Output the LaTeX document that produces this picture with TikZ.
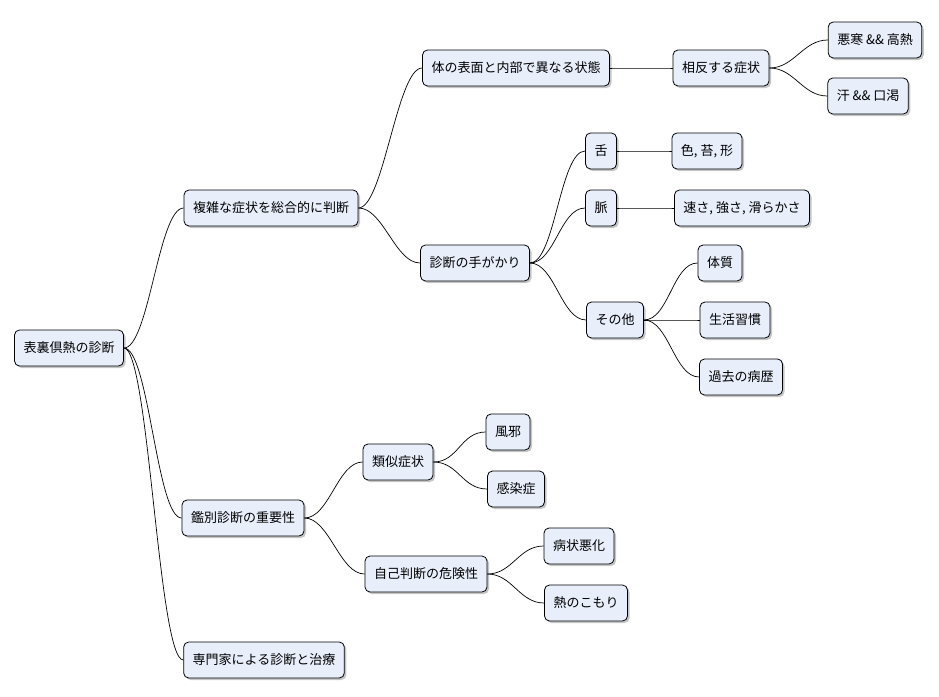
\documentclass[tikz,border=0pt]{standalone}
\usepackage{fontspec}
\setmainfont{Noto Sans CJK JP}
\usepackage{tikz}
\usetikzlibrary{shadows}
\definecolor{boxfill}{HTML}{E8EFFB}

\tikzset{
  topic/.style={draw=black, fill=boxfill, rounded corners=5pt, line width=0.8pt,
    minimum height=36pt, inner xsep=9pt, font=\fontsize{13pt}{15pt}\selectfont,
    drop shadow={shadow xshift=2pt, shadow yshift=-2pt, fill=black!45}},
  br/.style={-, line width=0.7pt,
    to path={.. controls +(25,0) and +(-25,0) .. (\tikztotarget)}}
}

\begin{document}
\begin{tikzpicture}[x=1pt,y=-1pt]
\useasboundingbox (0,0) rectangle (939,696);

\node[topic] (R)  at (69,348)  {表裏倶熱の診断};

\node[topic] (A)  at (271,208) {複雑な症状を総合的に判断};
\node[topic] (B)  at (243,518) {鑑別診断の重要性};
\node[topic] (C)  at (264,660) {専門家による診断と治療};

\node[topic] (A1) at (516,68)  {体の表面と内部で異なる状態};
\node[topic] (A11) at (721,68) {相反する症状};
\node[topic] (A111) at (875,40) {悪寒 \&\& 高熱};
\node[topic] (A112) at (868,96) {汗 \&\& 口渇};

\node[topic] (A2) at (475,263) {診断の手がかり};
\node[topic] (A21) at (601,151) {舌};
\node[topic] (A211) at (707,151) {色, 苔, 形};
\node[topic] (A22) at (601,208) {脈};
\node[topic] (A221) at (742,208) {速さ, 強さ, 滑らかさ};
\node[topic] (A23) at (615,320) {その他};
\node[topic] (A231) at (720,263) {体質};
\node[topic] (A232) at (735,320) {生活習慣};
\node[topic] (A233) at (741,377) {過去の病歴};

\node[topic] (B1) at (398,462) {類似症状};
\node[topic] (B11) at (508,432) {風邪};
\node[topic] (B12) at (516,489) {感染症};
\node[topic] (B2) at (426,574) {自己判断の危険性};
\node[topic] (B21) at (579,546) {病状悪化};
\node[topic] (B22) at (586,603) {熱のこもり};

\path
	(R.east) edge[br] (A.west)
	(R.east) edge[br] (B.west)
	(R.east) edge[br] (C.west);

\path
	(A.east) edge[br] (A1.west)
	(A.east) edge[br] (A2.west)
	(A1.east) edge[br] (A11.west)
	(A11.east) edge[br] (A111.west)
	(A11.east) edge[br] (A112.west);

\path
	(A2.east) edge[br] (A21.west)
	(A2.east) edge[br] (A22.west)
	(A2.east) edge[br] (A23.west)
	(A21.east) edge[br] (A211.west)
	(A22.east) edge[br] (A221.west)
	(A23.east) edge[br] (A231.west)
	(A23.east) edge[br] (A232.west)
	(A23.east) edge[br] (A233.west);

\path
	(B.east) edge[br] (B1.west)
	(B.east) edge[br] (B2.west)
	(B1.east) edge[br] (B11.west)
	(B1.east) edge[br] (B12.west)
	(B2.east) edge[br] (B21.west)
	(B2.east) edge[br] (B22.west);

\end{tikzpicture}
\end{document}
